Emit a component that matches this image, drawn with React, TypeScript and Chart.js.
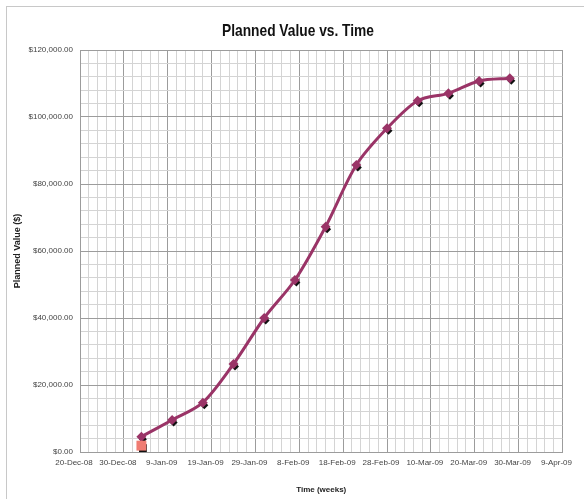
import React, { useEffect, useRef } from 'react';
import { Chart, registerables } from 'chart.js';
Chart.register(...registerables);

const BASE_DATE = '2008-12-20';
const weekDates = ['2009-01-03', '2009-01-10', '2009-01-17', '2009-01-24', '2009-01-31', '2009-02-07', '2009-02-14', '2009-02-21', '2009-02-28', '2009-03-07', '2009-03-14', '2009-03-21', '2009-03-28'];
const plannedValues = [4570, 9550, 14720, 26270, 40000, 51340, 67260, 85670, 96620, 104870, 107070, 110750, 111550];
const actualDates = ['2009-01-03'];
const actualValues = [1900];
const xTickLabels = ['20-Dec-08', '30-Dec-08', '9-Jan-09', '19-Jan-09', '29-Jan-09', '8-Feb-09', '18-Feb-09', '28-Feb-09', '10-Mar-09', '20-Mar-09', '30-Mar-09', '9-Apr-09'];
const TITLE = 'Planned Value vs. Time';
const X_TITLE = 'Time (weeks)';
const Y_TITLE = 'Planned Value ($)';

const dayOf = (s: string) => Math.round((Date.parse(s) - Date.parse(BASE_DATE)) / 86400000);
const FONT = "'Liberation Sans', Arial, sans-serif";

const shadowPlugin = {
  id: 'markerShadow',
  beforeDatasetDraw(chart: any, args: any) {
    const ctx = chart.ctx;
    const meta = args.meta;
    const ds = chart.data.datasets[args.index];
    ctx.save();
    ctx.fillStyle = '#111';
    meta.data.forEach((pt: any) => {
      const x = pt.x + 1.5, y = pt.y + 2.5;
      const r = ds.pointRadius * 0.8;
      ctx.beginPath();
      if (ds.pointStyle === 'rectRot') {
        ctx.moveTo(x, y - r);
        ctx.lineTo(x + r, y);
        ctx.lineTo(x, y + r);
        ctx.lineTo(x - r, y);
      } else {
        ctx.rect(x - r * 0.7, y - r * 0.7, r * 1.4, r * 1.4);
      }
      ctx.closePath();
      ctx.fill();
    });
    ctx.restore();
  },
};

const framePlugin = {
  id: 'frameTitle',
  beforeDraw(chart: any) {
    const ctx = chart.ctx;
    ctx.save();
    ctx.fillStyle = '#fff';
    ctx.fillRect(0, 0, chart.width, chart.height);
    ctx.strokeStyle = '#c8c8c8';
    ctx.lineWidth = 1;
    ctx.strokeRect(6.5, 6.5, chart.width, chart.height);
    ctx.restore();
  },
  afterDraw(chart: any) {
    const ctx = chart.ctx;
    ctx.save();
    ctx.fillStyle = '#111';
    ctx.font = `bold 17px ${FONT}`;
    ctx.textAlign = 'center';
    ctx.textBaseline = 'middle';
    const w = ctx.measureText(TITLE).width;
    const sx = Math.min(1, 152 / w);
    ctx.translate(298, 31);
    ctx.scale(sx, 1);
    ctx.fillText(TITLE, 0, 0);
    ctx.restore();
  },
};

export default function App() {
  const ref = useRef<HTMLCanvasElement>(null);
  useEffect(() => {
    document.body.style.margin = '0';
    const canvas = ref.current!;
    const majorX = (v: number) => v % 10 === 0;
    const majorY = (v: number) => v % 20000 === 0;
    const chart = new Chart(canvas, {
      type: 'line',
      data: {
        datasets: [
          {
            label: 'Planned Value',
            data: weekDates.map((d, i) => ({ x: dayOf(d), y: plannedValues[i] })),
            borderColor: '#9A3467',
            backgroundColor: '#9A3467',
            borderWidth: 3,
            pointStyle: 'rectRot',
            pointRadius: 5,
            pointBorderWidth: 0,
            tension: 0.3,
            order: 2,
          } as any,
          {
            label: 'Actual',
            data: actualDates.map((d, i) => ({ x: dayOf(d), y: actualValues[i] })),
            borderColor: '#F07C72',
            backgroundColor: '#F07C72',
            showLine: false,
            pointStyle: 'rect',
            pointRadius: 7,
            pointBorderWidth: 0,
            clip: false,
            order: 1,
          } as any,
        ],
      },
      options: {
        animation: false,
        responsive: false,
        layout: { padding: { top: 50, right: 20, left: 0, bottom: 0 } },
        plugins: { legend: { display: false }, tooltip: { enabled: false }, title: { display: false } },
        scales: {
          x: {
            type: 'linear',
            min: 0,
            max: 110,
            afterFit: (s: any) => { s.height = 47; },
            ticks: {
              stepSize: 2,
              autoSkip: false,
              maxRotation: 0,
              minRotation: 0,
              padding: 6,
              labelOffset: -6,
              color: '#444',
              font: { size: 8, family: FONT },
              callback: (v: any) => (majorX(Number(v)) ? xTickLabels[Number(v) / 10] : ''),
            },
            grid: {
              drawTicks: false,
              color: (c: any) => (majorX(c.tick.value) ? '#9c9c9c' : '#d4d4d4'),
              lineWidth: 1,
            },
            border: { color: '#9c9c9c' },
            title: {
              display: true,
              text: X_TITLE,
              color: '#222',
              font: { size: 8, weight: 'bold', family: FONT },
              padding: { top: 0, bottom: 4 },
            },
          },
          y: {
            min: 0,
            max: 120000,
            afterFit: (s: any) => { s.width = 80; },
            ticks: {
              stepSize: 4000,
              autoSkip: false,
              padding: 7,
              color: '#444',
              font: { size: 8, family: FONT },
              callback: (v: any) =>
                majorY(Number(v))
                  ? '$' + Number(v).toLocaleString('en-US', { minimumFractionDigits: 2, maximumFractionDigits: 2 })
                  : '',
            },
            grid: {
              drawTicks: false,
              color: (c: any) => (majorY(c.tick.value) ? '#9c9c9c' : '#d4d4d4'),
              lineWidth: 1,
            },
            border: { color: '#9c9c9c' },
            title: {
              display: true,
              text: Y_TITLE,
              color: '#222',
              font: { size: 9, weight: 'bold', family: FONT },
              padding: { top: 12, bottom: 0 },
            },
          },
        },
      },
      plugins: [shadowPlugin, framePlugin],
    });
    return () => chart.destroy();
  }, []);
  return <canvas ref={ref} width={584} height={499} style={{ display: 'block', width: 584, height: 499 }} />;
}
